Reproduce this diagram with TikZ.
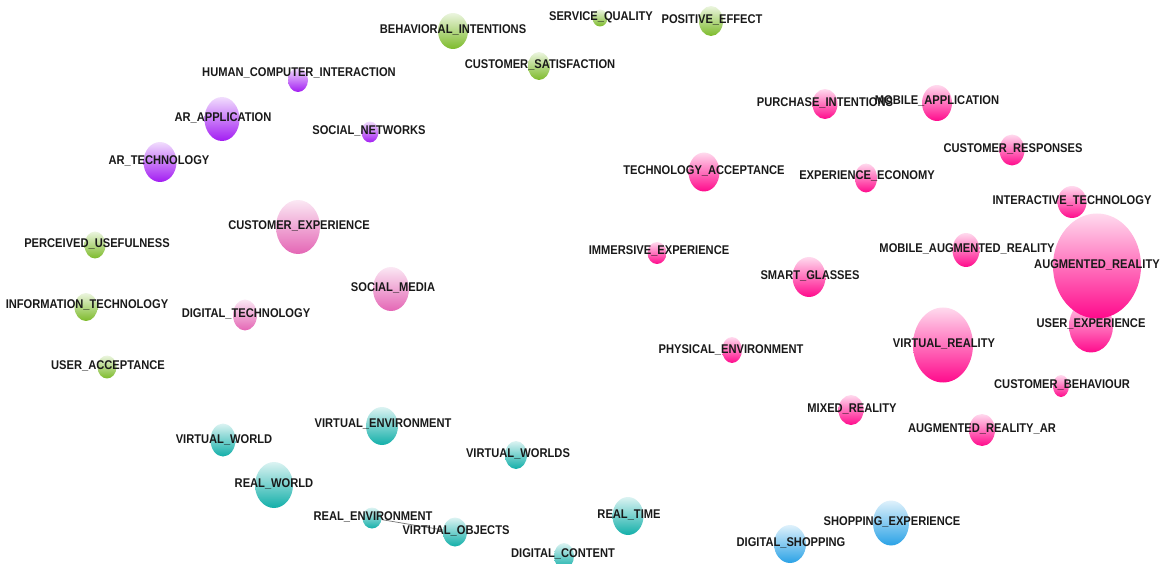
\documentclass[tikz,border=0pt]{standalone}
\usepackage{fontspec}
\setmainfont{Liberation Sans}
\newfontfamily\kwfont[FakeStretch=0.88]{Liberation Sans}
\usetikzlibrary{shapes}

\begin{document}
\begin{tikzpicture}[x=0.02cm,y=-0.02cm]
\tikzset{kw/.style={ellipse,inner sep=0pt,draw=none},
  txt/.style={font=\kwfont\bfseries\fontsize{7.2}{8}\selectfont,text=black!90,inner sep=0pt},
  link/.style={thin,draw=black!55}}
\definecolor{ar}{HTML}{FF0A8C}   \definecolor{cx}{HTML}{E466B5}
\definecolor{gr}{HTML}{7DBB2B}   \definecolor{pu}{HTML}{A21CF2}
\definecolor{vw}{HTML}{12AFA9}   \definecolor{sh}{HTML}{2AA2E6}
\useasboundingbox (0,0) rectangle (1167,564);

% bubbles: name/x/y/width/height/cluster
\foreach \nm/\x/\y/\w/\h/\cl in {
  behav/453/31/30/36/gr, servq/600/18/15/17/gr, poseff/711/21/24/30/gr,
  custsat/539/66/22/28/gr, perc/95/245/21/27/gr, infot/86/307/23/28/gr,
  useracc/107/367/19/23/gr,
  hci/298/80/20/24/pu, arapp/222/119/35/44/pu, socnet/370/132/17/21/pu,
  artech/160/162/33/40/pu,
  custexp/298/227/44/54/cx, socmed/391/289/36/44/cx, digtech/245/315/24/31/cx,
  purch/825/104/25/30/ar, mobapp/937/103/30/36/ar, custresp/1012/150/25/31/ar,
  techacc/704/172/31/39/ar, expeco/866/178/22/29/ar, inter/1072/202/29/32/ar,
  immers/657/253/19/22/ar, mobar/966/250/27/34/ar, smart/809/277/33/40/ar,
  phys/732/350/20/26/ar, usrexp/1091/326/44/53/ar, aug/1097/266/88/105/ar,
  vr/943/345/60/75/ar, custbeh/1061/386/16/22/ar, mixed/851/410/25/30/ar,
  augar/982/430/26/32/ar,
  venv/382/426/32/38/vw, vworld/223/440/25/33/vw, vworlds/516/455/22/28/vw,
  rworld/274/485/38/46/vw, renv/372/518/19/21/vw, vobj/455/532/24/29/vw,
  rtime/628/516/31/38/vw, dcont/564/556/20/26/vw,
  shopexp/891/523/36/45/sh, dshop/790/544/32/38/sh}
  \node[kw,minimum width=\w*0.02cm,minimum height=\h*0.02cm,
        top color=\cl!15!white,bottom color=\cl](\nm)at(\x,\y){};

\draw[link](renv)--(vobj);

% keywords
\foreach \nm/\x/\y/\lbl in {
  behav/453/30/BEHAVIORAL\_INTENTIONS, servq/601/17/SERVICE\_QUALITY,
  poseff/712/20/POSITIVE\_EFFECT, custsat/540/65/CUSTOMER\_SATISFACTION,
  perc/97/244/PERCEIVED\_USEFULNESS, infot/87/305/INFORMATION\_TECHNOLOGY,
  useracc/108/366/USER\_ACCEPTANCE,
  hci/299/73/HUMAN\_COMPUTER\_INTERACTION, arapp/223/118/AR\_APPLICATION,
  socnet/369/131/SOCIAL\_NETWORKS, artech/159/161/AR\_TECHNOLOGY,
  custexp/299/226/CUSTOMER\_EXPERIENCE, socmed/393/288/SOCIAL\_MEDIA,
  digtech/246/314/DIGITAL\_TECHNOLOGY,
  purch/825/103/PURCHASE\_INTENTIONS, mobapp/937/101/MOBILE\_APPLICATION,
  custresp/1013/149/CUSTOMER\_RESPONSES, techacc/704/171/TECHNOLOGY\_ACCEPTANCE,
  expeco/867/176/EXPERIENCE\_ECONOMY, inter/1072/201/INTERACTIVE\_TECHNOLOGY,
  immers/659/251/IMMERSIVE\_EXPERIENCE, mobar/967/249/MOBILE\_AUGMENTED\_REALITY,
  smart/810/276/SMART\_GLASSES, phys/731/350/PHYSICAL\_ENVIRONMENT,
  usrexp/1091/324/USER\_EXPERIENCE, aug/1097/265/AUGMENTED\_REALITY,
  vr/944/344/VIRTUAL\_REALITY, custbeh/1062/385/CUSTOMER\_BEHAVIOUR,
  mixed/852/409/MIXED\_REALITY, augar/982/429/AUGMENTED\_REALITY\_AR,
  venv/383/424/VIRTUAL\_ENVIRONMENT, vworld/224/440/VIRTUAL\_WORLD,
  vworlds/518/454/VIRTUAL\_WORLDS, rworld/274/484/REAL\_WORLD,
  renv/373/517/REAL\_ENVIRONMENT, vobj/456/531/VIRTUAL\_OBJECTS,
  rtime/629/515/REAL\_TIME, dcont/563/554/DIGITAL\_CONTENT,
  shopexp/892/522/SHOPPING\_EXPERIENCE, dshop/791/543/DIGITAL\_SHOPPING}
  \node[txt](\nm-t)at(\x,\y){\lbl};
\end{tikzpicture}
\end{document}
